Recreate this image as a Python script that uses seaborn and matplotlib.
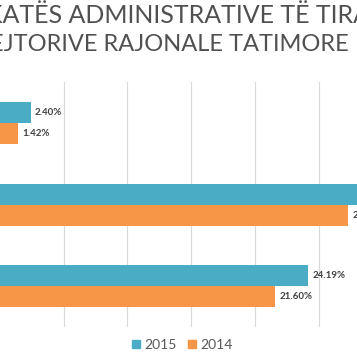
import numpy as np
import pandas as pd
import matplotlib
matplotlib.use("Agg")
import matplotlib.pyplot as plt
import seaborn as sns
from matplotlib.lines import Line2D

# data (category names are cut off in the reference)
categories = ["Drejtoria 1", "Drejtoria 2", "Drejtoria 3"]
years = ["2015", "2014"]
values_2015 = [2.40, 30.10, 24.19]
values_2014 = [1.42, 27.33, 21.60]
colors = ["#4BACC6", "#F79646"]

df = pd.DataFrame({
    "cat": categories * 2,
    "year": [years[0]] * 3 + [years[1]] * 3,
    "val": values_2015 + values_2014,
})

sns.set_style("white")
plt.rcParams["font.family"] = ["Lato", "DejaVu Sans"]

fig = plt.figure(figsize=(3.57, 3.57), dpi=100)
ax = fig.add_axes([0.0, 0.084, 1.0, 0.686])

sns.barplot(data=df, y="cat", x="val", hue="year", hue_order=years,
            palette=colors, orient="h", width=0.515, ax=ax, legend=False,
            saturation=1, errorbar=None, linewidth=0)

ax.set_xlim(0, 28.02)
ax.set_ylim(2.5, -0.5)
ax.set_xticks([5, 10, 15, 20, 25])
ax.grid(axis="x", color="#d9d9d9", linewidth=0.8)
ax.set_axisbelow(True)
for s in ax.spines.values():
    s.set_visible(False)
ax.tick_params(left=False, bottom=False, labelbottom=False, labelleft=False)
ax.set_xlabel("")
ax.set_ylabel("")

for cont in ax.containers:
    ax.bar_label(cont, labels=[f"{v:.2f}%" for v in cont.datavalues],
                 padding=3, fontsize=7, fontweight="bold", color="#404040")

# title (cut off on both sides in the reference)
fig.text(-0.04, 1 - 23 / 357, "KATËS ADMINISTRATIVE TË TIRANËS",
         fontsize=18, color="#505050", ha="left", va="baseline")
fig.text(-0.028, 1 - 51 / 357, "EJTORIVE RAJONALE TATIMORE",
         fontsize=17, color="#505050", ha="left", va="baseline")

handles = [Line2D([], [], marker="s", linestyle="", markersize=6,
                  color=c, label=y) for c, y in zip(colors, years)]
fig.legend(handles=handles, loc="center", bbox_to_anchor=(0.51, 0.034),
           ncol=2, frameon=False, fontsize=10, labelcolor="#595959",
           handlelength=0.6, handletextpad=0.3, columnspacing=0.8)

fig.savefig("out.png", dpi=100)
